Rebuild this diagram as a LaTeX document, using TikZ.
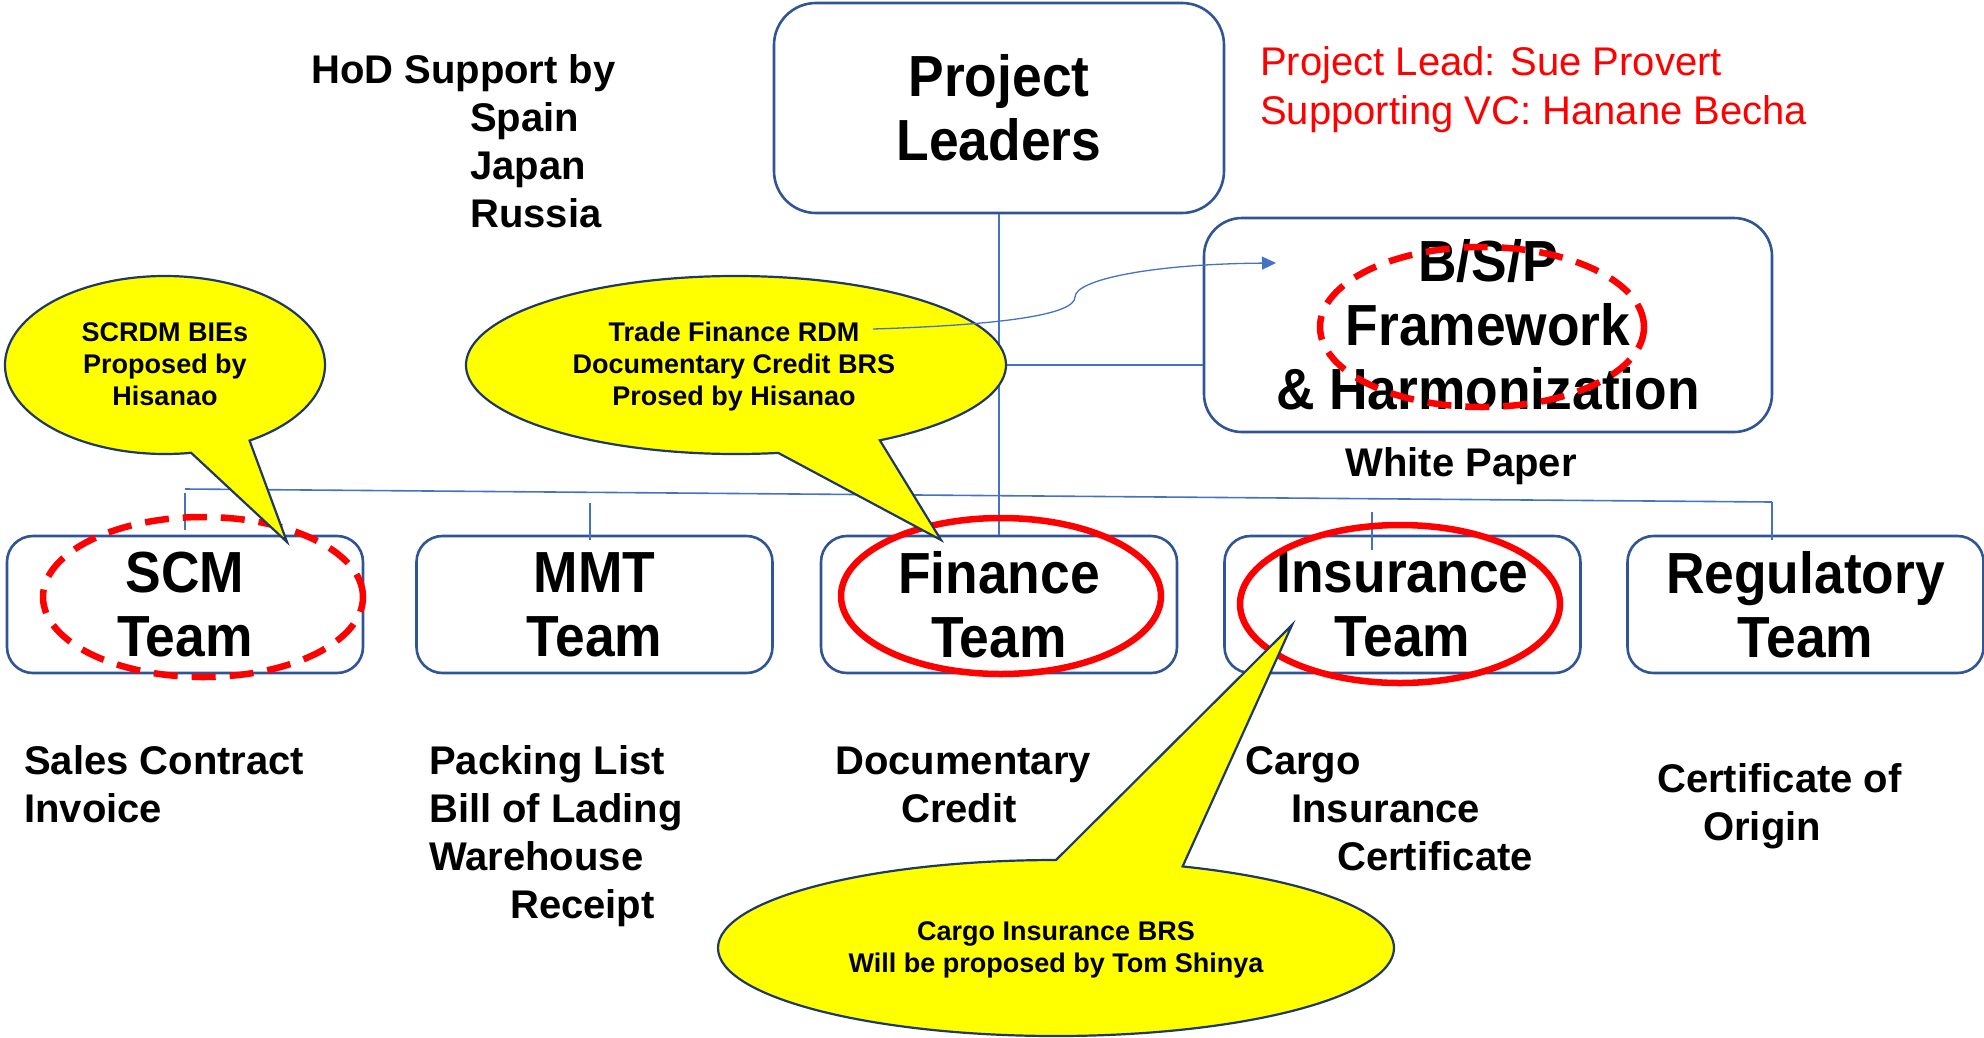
\documentclass[tikz,border=0pt]{standalone}
\usepackage{fontspec}
\setmainfont{Liberation Sans}
\newfontfamily\bigf{Liberation Sans}[FakeStretch=0.92]
\usetikzlibrary{arrows.meta}
\definecolor{boxblue}{HTML}{2F5597}
\definecolor{lineblue}{HTML}{4472C4}
\definecolor{navy}{HTML}{1F3864}
\definecolor{calloutyellow}{HTML}{FFFF00}
\definecolor{redmark}{HTML}{FF0000}
\begin{document}
\begin{tikzpicture}[x=1pt,y=-1pt,
  conn/.style={draw=lineblue, line width=1.6pt},
  orgbox/.style={draw=boxblue, line width=2.6pt, align=center, inner sep=0pt,
    font=\bigf\bfseries\fontsize{58}{64}\selectfont},
  teambox/.style={orgbox, rounded corners=26pt, minimum width=356pt, minimum height=137pt},
  redring/.style={draw=redmark, line width=6.5pt},
  reddash/.style={redring, dash pattern=on 24pt off 14pt},
  callout/.style={fill=calloutyellow, draw=navy, line width=2.2pt, line join=miter},
  callouttext/.style={align=center, inner sep=0pt, font=\bfseries\fontsize{27}{32}\selectfont},
  doc/.style={align=left, inner sep=0pt, anchor=base west, font=\bfseries\fontsize{40}{48}\selectfont},
]
\useasboundingbox (0,0) rectangle (1984,1037);

% boxes
\node[orgbox, rounded corners=42pt, minimum width=450pt, minimum height=210pt] (pl) at (999,108) {Project\\Leaders};
\node[orgbox, rounded corners=38pt, minimum width=568pt, minimum height=214pt] (bsp) at (1488,325) {B/S/P\\Framework\\\& Harmonization};
\node[teambox] (scm) at (185,604.5) {SCM\\Team};
\node[teambox] (mmt) at (594.5,604.5) {MMT\\Team};
\node[teambox] (fin) at (999,604.5) {Finance\\Team};
\node[teambox] (ins) at (1402.5,604.5) {Insurance\\Team};
\node[teambox] (reg) at (1805.5,604.5) {Regulatory\\Team};

% connectors
\draw[conn] (pl.south) -- (fin.north);
\coordinate (j) at (999,365);
\draw[conn] (j) -- (j -| bsp.west);
\coordinate (busL) at (185,489);
\coordinate (busR) at (1772,502);
\draw[conn] (busL) -- (busR);
\coordinate (t1a) at (185,493); \coordinate (t1b) at (185,530);
\coordinate (t2a) at (590,503); \coordinate (t2b) at (590,540);
\coordinate (t3a) at (1372,512); \coordinate (t3b) at (1372,550);
\coordinate (t4b) at (1772,540);
\draw[conn] (t1a) -- (t1b);
\draw[conn] (t2a) -- (t2b);
\draw[conn] (t3a) -- (t3b);
\draw[conn] (busR) -- (t4b);

% red marks
\draw[reddash] (203,597) ellipse [x radius=160pt, y radius=80pt];
\draw[redring] (1001,596) ellipse [x radius=160pt, y radius=78pt];
\draw[redring] (1400,604) ellipse [x radius=160pt, y radius=79pt];
\draw[reddash] (1482,327) ellipse [x radius=162pt, y radius=80pt];

% callouts
\path[callout] (165,365) ++(-58.1:160pt and 89pt)
  arc[start angle=-58.1, end angle=279.4, x radius=160pt, y radius=89pt] -- (287,542) -- cycle;
\path[callout] (736,365) ++(-57.8:270pt and 89pt)
  arc[start angle=-57.8, end angle=279, x radius=270pt, y radius=89pt] -- (941,540) -- cycle;
\path[callout] (1056,948) ++(90:338pt and 88pt)
  arc[start angle=90, end angle=428, x radius=338pt, y radius=88pt] -- (1292,625) -- cycle;

\node[callouttext, anchor=base] (c1) at (165,405) {SCRDM BIEs\\Proposed by\\Hisanao};
\node[callouttext, anchor=base] (c2) at (734,405) {Trade Finance RDM\\Documentary Credit BRS\\Prosed by Hisanao};
\node[callouttext, anchor=base] (c3) at (1056,972) {Cargo Insurance BRS\\Will be proposed by Tom Shinya};

\coordinate (tfend) at (873,329);
\coordinate (bspin) at (1276,263);
\draw[conn, line width=1.3pt, -{Triangle[length=14pt,width=13pt]}] (tfend)
  .. controls (1000,325) and (1075,315) .. (1075,297)
  .. controls (1075,280) and (1150,264) .. (bspin);

% texts
\node[doc] (hod) at (311,227) {HoD Support by\\\hspace*{159pt}Spain\\\hspace*{159pt}Japan\\\hspace*{159pt}Russia};
\node[anchor=base west, align=left, inner sep=0pt, text=redmark, font=\fontsize{40}{49}\selectfont] (lead) at (1260,124) {Project Lead: Sue Provert\\Supporting VC: Hanane Becha};
\node[anchor=base, inner sep=0pt, font=\bfseries\fontsize{40}{48}\selectfont] (wp) at (1461,476) {White Paper};
\node[doc] (d1) at (24,822) {Sales Contract\\Invoice};
\node[doc] (d2) at (429,918) {Packing List\\Bill of Lading\\Warehouse\\\hspace*{81pt}Receipt};
\node[doc] (d3) at (835,822) {Documentary\\\hspace*{66pt}Credit};
\node[doc] (d4) at (1245,870) {Cargo\\\hspace*{46pt}Insurance\\\hspace*{92pt}Certificate};
\node[doc] (d5) at (1657,840) {Certificate of\\\hspace*{46pt}Origin};
\end{tikzpicture}
\end{document}
